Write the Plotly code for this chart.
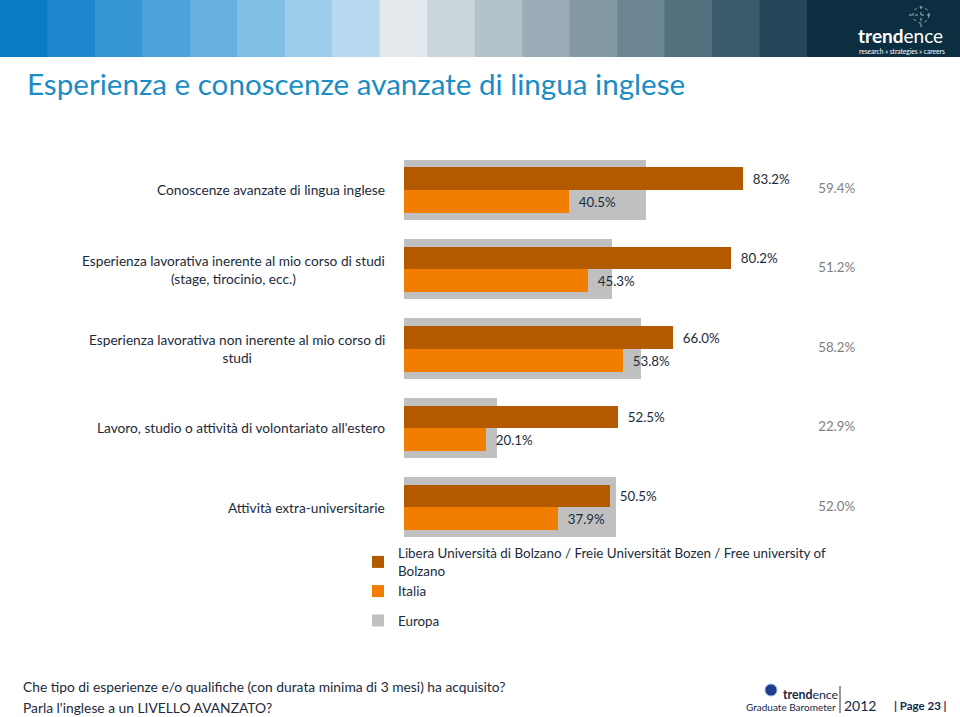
import plotly.graph_objects as go

# ---------------- data ----------------
categories = [
    "Conoscenze avanzate di lingua inglese",
    "Esperienza lavorativa inerente al mio corso di studi<br>(stage, tirocinio, ecc.)",
    "Esperienza lavorativa non inerente al mio corso di<br>studi",
    "Lavoro, studio o attività di volontariato all'estero",
    "Attività extra-universitarie",
]
bolzano = [83.2, 80.2, 66.0, 52.5, 50.5]
italia = [40.5, 45.3, 53.8, 20.1, 37.9]
europa = [59.4, 51.2, 58.2, 22.9, 52.0]

series_names = [
    "Libera Università di Bolzano / Freie Universität Bozen / Free university of<br>Bolzano",
    "Italia",
    "Europa",
]

C_DARK = "#B35A00"
C_ORANGE = "#F27E00"
C_GRAY = "#C0C0C0"
TXT = "#1B2B3B"
FONT = "Lato"

W, H = 960, 717
L, R, T, B = 404, 100, 150, 170
PW, PH = W - L - R, H - T - B
XMAX = 112


def px(xp):
    return (xp - L) / PW


def py(yp):
    return (H - B - yp) / PH


fig = go.Figure()

fig.add_trace(go.Bar(
    y=categories, x=europa, orientation="h", name=series_names[2],
    marker=dict(color=C_GRAY, line=dict(width=0)),
    width=0.76, offset=-0.38, legendgroup="b", legendrank=3,
    hoverinfo="x+name",
))
fig.add_trace(go.Bar(
    y=categories, x=bolzano, orientation="h", name=series_names[0],
    marker=dict(color=C_DARK, line=dict(width=0)),
    width=0.28, offset=-0.28, legendgroup="a", legendrank=1,
    text=bolzano, texttemplate="  %{x:.1f}%", textposition="outside",
    textfont=dict(family=FONT, size=13.3, color=TXT),
    constraintext="none", cliponaxis=False,
))
fig.add_trace(go.Bar(
    y=categories, x=italia, orientation="h", name=series_names[1],
    marker=dict(color=C_ORANGE, line=dict(width=0)),
    width=0.29, offset=0.0, legendgroup="a", legendrank=2,
    text=italia, texttemplate="  %{x:.1f}%", textposition="outside",
    textfont=dict(family=FONT, size=13.3, color=TXT),
    constraintext="none", cliponaxis=False,
))
# Europa value labels, placed in a column at the right
fig.add_trace(go.Scatter(
    y=categories, x=[110.8] * len(categories), mode="text",
    text=[f"{v:.1f}%" for v in europa], textposition="middle left",
    textfont=dict(family=FONT, size=13.3, color="#808080"),
    showlegend=False, hoverinfo="skip", cliponaxis=False,
))

annotations = []
for i, c in enumerate(categories):
    annotations.append(dict(
        xref="paper", yref="y", x=px(387), y=i, text=c, showarrow=False,
        xanchor="right", yanchor="middle", align="center",
        font=dict(family=FONT, size=13.7, color=TXT),
    ))

shapes = []
# header colour band
band = ["#0A7BC6", "#1E88CF", "#3595D5", "#4DA2DB", "#66AFE0", "#81BEE6",
        "#9CCDEB", "#B6D9F0", "#E3E9ED", "#CBD6DC", "#B3C1C9", "#9BACB6",
        "#8399A4", "#6B8592", "#53707F", "#3B5A6B", "#244658"]
bw = 807 / len(band)
for k, col in enumerate(band):
    shapes.append(dict(type="rect", xref="paper", yref="paper",
                       x0=px(k * bw), x1=px((k + 1) * bw + 0.5),
                       y0=py(57), y1=py(0), fillcolor=col, line=dict(width=0),
                       layer="below"))
shapes.append(dict(type="rect", xref="paper", yref="paper",
                   x0=px(807), x1=px(960), y0=py(57), y1=py(0),
                   fillcolor="#0C2E41", line=dict(width=0), layer="below"))
# small crosshair icon
shapes.append(dict(type="circle", xref="paper", yref="paper",
                   x0=px(913), x1=px(929), y0=py(23), y1=py(7),
                   line=dict(color="#9FB3BF", width=1, dash="dot")))
shapes.append(dict(type="line", xref="paper", yref="paper",
                   x0=px(921), x1=px(921), y0=py(27), y1=py(3),
                   line=dict(color="#9FB3BF", width=1, dash="dot")))
shapes.append(dict(type="line", xref="paper", yref="paper",
                   x0=px(909), x1=px(933), y0=py(15), y1=py(15),
                   line=dict(color="#9FB3BF", width=1, dash="dot")))
# footer logo globe + separator
shapes.append(dict(type="circle", xref="paper", yref="paper",
                   x0=px(765), x1=px(777), y0=py(696), y1=py(684),
                   fillcolor="#1F3C8C", line=dict(color="#8FB4E0", width=1)))
shapes.append(dict(type="line", xref="paper", yref="paper",
                   x0=px(840), x1=px(840), y0=py(713), y1=py(686),
                   line=dict(color="#333333", width=1)))

annotations += [
    dict(xref="paper", yref="paper", x=px(856), y=py(36), text="<b>trend</b>ence",
         showarrow=False, xanchor="left", yanchor="middle",
         font=dict(family=FONT, size=19, color="white")),
    dict(xref="paper", yref="paper", x=px(857), y=py(51),
         text="research » strategies » careers",
         showarrow=False, xanchor="left", yanchor="middle",
         font=dict(family=FONT, size=6.6, color="white")),
    dict(xref="paper", yref="paper", x=px(25), y=py(83),
         text="Esperienza e conoscenze avanzate di lingua inglese",
         showarrow=False, xanchor="left", yanchor="middle",
         font=dict(family=FONT, size=29.6, color="#1B8DC4")),
    dict(xref="paper", yref="paper", x=px(21), y=py(686),
         text="Che tipo di esperienze e/o qualifiche (con durata minima di 3 mesi) ha acquisito?",
         showarrow=False, xanchor="left", yanchor="middle",
         font=dict(family=FONT, size=13.8, color=TXT)),
    dict(xref="paper", yref="paper", x=px(21), y=py(707),
         text="Parla l'inglese a un LIVELLO AVANZATO?",
         showarrow=False, xanchor="left", yanchor="middle",
         font=dict(family=FONT, size=13.8, color=TXT)),
    dict(xref="paper", yref="paper", x=px(781), y=py(694),
         text="<b>trend</b>ence",
         showarrow=False, xanchor="left", yanchor="middle",
         font=dict(family=FONT, size=12.3, color="#14284B")),
    dict(xref="paper", yref="paper", x=px(838), y=py(707),
         text="Graduate Barometer",
         showarrow=False, xanchor="right", yanchor="middle",
         font=dict(family=FONT, size=10, color="#14284B")),
    dict(xref="paper", yref="paper", x=px(842), y=py(705),
         text="2012",
         showarrow=False, xanchor="left", yanchor="middle",
         font=dict(family=FONT, size=14, color="#14284B")),
    dict(xref="paper", yref="paper", x=px(949), y=py(705),
         text="<b>| Page 23 |</b>",
         showarrow=False, xanchor="right", yanchor="middle",
         font=dict(family=FONT, size=11.5, color="#14284B")),
]

fig.update_layout(
    width=W, height=H,
    margin=dict(l=L, r=R, t=T, b=B, pad=0),
    paper_bgcolor="white", plot_bgcolor="white",
    barmode="overlay", bargap=0,
    font=dict(family=FONT, size=14, color=TXT),
    xaxis=dict(range=[0, XMAX], visible=False, fixedrange=True),
    yaxis=dict(type="category", range=[4.5, -0.5], showticklabels=False,
               showgrid=False, zeroline=False, showline=False, ticks="",
               fixedrange=True),
    legend=dict(x=px(358), y=py(538), xanchor="left", yanchor="top",
                traceorder="grouped", tracegroupgap=9,
                font=dict(family=FONT, size=13.4, color=TXT),
                bgcolor="rgba(0,0,0,0)", itemclick=False),
    annotations=annotations, shapes=shapes,
    showlegend=True,
)

fig.write_html(
    "out.html",
    config={"displayModeBar": False},
    post_script="document.body.style.margin='0';document.body.style.overflow='hidden';",
)
